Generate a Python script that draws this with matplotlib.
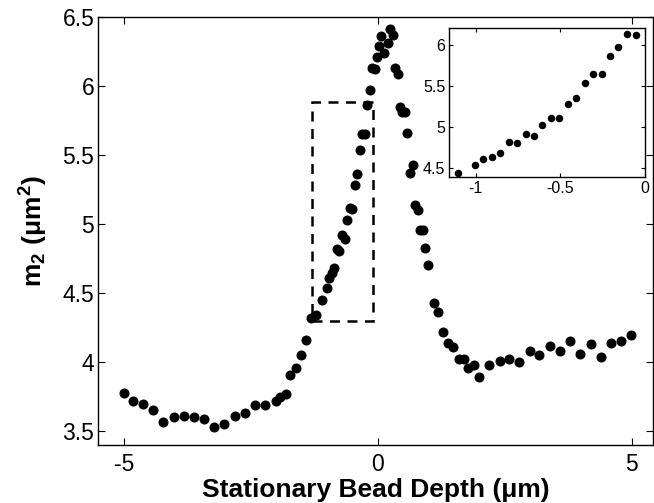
import matplotlib
matplotlib.use('Agg')
import matplotlib.pyplot as plt
from matplotlib.patches import Rectangle


# depth (um) and m2 (um^2)
depth = [-5.00, -4.82, -4.62, -4.42, -4.22, -4.02, -3.82, -3.62, -3.43,
         -3.22, -3.02, -2.81, -2.62, -2.41, -2.22, -2.01, -1.92, -1.80,
         -1.72, -1.62, -1.52, -1.42, -1.31, -1.21,
         -1.106, -1.004, -0.955, -0.906, -0.856, -0.805, -0.756, -0.705,
         -0.656, -0.606, -0.557, -0.506, -0.455, -0.406, -0.356, -0.307,
         -0.256, -0.207, -0.156, -0.106, -0.055,
         -0.01, 0.03, 0.07, 0.13, 0.20, 0.24, 0.295, 0.33, 0.39, 0.43,
         0.48, 0.54, 0.58, 0.64, 0.69, 0.74, 0.79, 0.84, 0.89, 0.93,
         0.98, 1.10, 1.19, 1.29, 1.39, 1.48, 1.59, 1.69, 1.78, 1.90, 1.99,
         2.19, 2.40, 2.59, 2.78, 2.99, 3.18, 3.39, 3.59, 3.79, 3.98, 4.19,
         4.40, 4.59, 4.79, 4.99]
m2 = [3.78, 3.72, 3.70, 3.65, 3.57, 3.60, 3.61, 3.60, 3.59,
      3.53, 3.55, 3.61, 3.63, 3.69, 3.69, 3.72, 3.75, 3.77,
      3.91, 3.96, 4.05, 4.16, 4.32, 4.34,
      4.45, 4.54, 4.61, 4.645, 4.685, 4.82, 4.805, 4.92,
      4.895, 5.03, 5.115, 5.11, 5.285, 5.36, 5.535, 5.65,
      5.65, 5.86, 5.97, 6.13, 6.12,
      6.21, 6.29, 6.36, 6.24, 6.31, 6.41, 6.37, 6.13, 6.09, 5.85,
      5.81, 5.81, 5.66, 5.37, 5.43, 5.14, 5.10, 4.96, 4.96, 4.83,
      4.70, 4.43, 4.36, 4.22, 4.14, 4.11, 4.02, 4.02, 3.96, 3.98, 3.89,
      3.98, 4.01, 4.02, 4.00, 4.08, 4.05, 4.12, 4.08, 4.15, 4.06, 4.13,
      4.04, 4.14, 4.15, 4.20]

# zoomed part shown in the inset
inset_depth = [-1.106, -1.004, -0.955, -0.906, -0.856, -0.805, -0.756,
               -0.705, -0.656, -0.606, -0.557, -0.506, -0.455, -0.406,
               -0.356, -0.307, -0.256, -0.207, -0.156, -0.106, -0.055]
inset_m2 = [4.45, 4.54, 4.61, 4.645, 4.685, 4.82, 4.805,
            4.92, 4.895, 5.03, 5.115, 5.11, 5.285, 5.36,
            5.535, 5.65, 5.65, 5.86, 5.97, 6.13, 6.12]

x_ticks = [-5, 0, 5]
x_tick_labels = ['-5', '0', '5']
y_ticks = [3.5, 4, 4.5, 5, 5.5, 6, 6.5]
y_tick_labels = ['3.5', '4', '4.5', '5', '5.5', '6', '6.5']
inset_x_ticks = [-1, -0.5, 0]
inset_x_tick_labels = ['-1', '-0.5', '0']
inset_y_ticks = [4.5, 5, 5.5, 6]
inset_y_tick_labels = ['4.5', '5', '5.5', '6']


def main():
    plt.rcParams['font.family'] = ['Liberation Sans', 'DejaVu Sans']
    plt.rcParams['mathtext.fontset'] = 'custom'
    plt.rcParams['mathtext.rm'] = 'Liberation Sans:bold'
    plt.rcParams['mathtext.it'] = 'Liberation Sans:bold'
    plt.rcParams['mathtext.bf'] = 'Liberation Sans:bold'
    plt.rcParams['mathtext.default'] = 'rm'
    plt.rcParams['axes.unicode_minus'] = False

    fig = plt.figure(figsize=(6.54, 5.03), dpi=100)
    ax = fig.add_axes([0.1506, 0.1153, 0.848, 0.851])
    ax.plot(depth, m2, 'o', color='k', ms=6.2, mec='k')
    ax.set_xlim(-5.5, 5.42)
    ax.set_ylim(3.4, 6.5)
    ax.set_xticks(x_ticks)
    ax.set_xticklabels(x_tick_labels)
    ax.set_yticks(y_ticks)
    ax.set_yticklabels(y_tick_labels)
    ax.tick_params(direction='in', top=True, right=True, labelsize=16.5,
                   length=5, width=0.8)
    ax.tick_params(axis='y', pad=3)
    ax.tick_params(axis='x', pad=6)
    for s in ax.spines.values():
        s.set_linewidth(1.0)

    # dashed box marking the zoomed region
    box = Rectangle((-1.3, 4.3), 1.2, 1.586, fill=False, ls=(0, (4, 3)),
                    lw=1.8, ec='k')
    ax.add_patch(box)

    ax.set_xlabel('Stationary Bead Depth (\u03bcm)', fontsize=19,
                  fontweight='bold')
    ax.xaxis.set_label_coords(0.5, -0.078)
    ax.set_ylabel(r'$m_2\ (\mu m^2)$', fontsize=19)
    ax.yaxis.set_label_coords(-0.088, 0.5)

    axin = fig.add_axes([0.687, 0.6487, 0.299, 0.295])
    axin.plot(inset_depth, inset_m2, 'o', color='k', ms=4.4, mec='k')
    axin.set_xlim(-1.156, 0)
    axin.set_ylim(4.4, 6.2)
    axin.set_xticks(inset_x_ticks)
    axin.set_xticklabels(inset_x_tick_labels)
    axin.set_yticks(inset_y_ticks)
    axin.set_yticklabels(inset_y_tick_labels)
    axin.tick_params(direction='in', top=True, right=True, labelsize=11.5,
                     length=3, width=0.8, pad=3)
    for s in axin.spines.values():
        s.set_linewidth(1.0)

    fig.savefig('out.png', dpi=100)


if __name__ == '__main__':
    main()
